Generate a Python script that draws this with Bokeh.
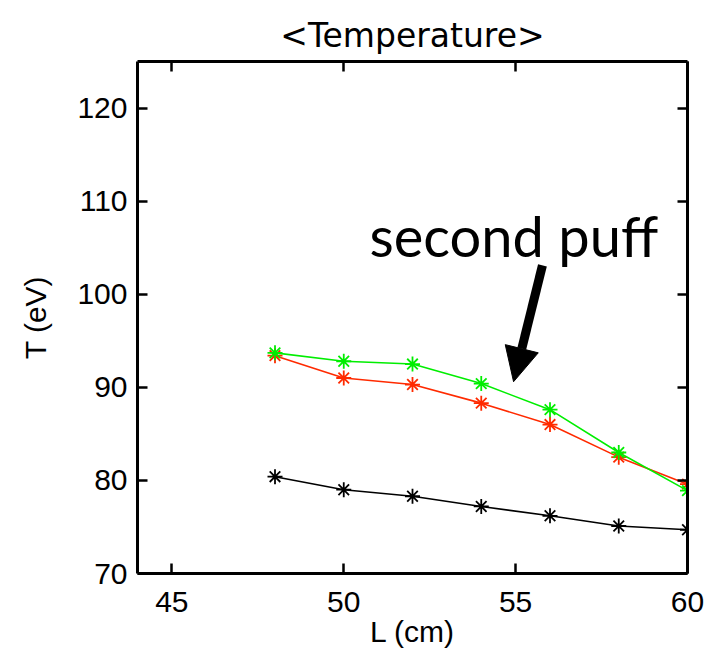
from bokeh.plotting import figure
from bokeh.models import (Range1d, LinearAxis, FixedTicker, CustomJSTickFormatter,
                          Label, Arrow, NormalHead)
from bokeh.embed import file_html
from bokeh.resources import INLINE

# ---- data ----
L_cm = [48, 50, 52, 54, 56, 58, 60]
T_black = [80.4, 79.0, 78.3, 77.2, 76.2, 75.1, 74.7]
T_red = [93.4, 91.0, 90.3, 88.3, 86.0, 82.5, 79.6]
T_green = [93.7, 92.8, 92.5, 90.4, 87.6, 83.0, 78.9]
x_ticks = [45, 50, 55, 60]
y_ticks = [70, 80, 90, 100, 110, 120]
title_text = "<Temperature>"
x_label = "L (cm)"
y_label = "T (eV)"
note_text = "second puff"

FONT = "Liberation Sans"

p = figure(width=709, height=654, output_backend="svg", toolbar_location=None,
           x_range=Range1d(44, 60), y_range=Range1d(70, 125),
           min_border_left=137, min_border_right=22, min_border_top=61,
           min_border_bottom=81, title=title_text, x_axis_location=None,
           y_axis_location=None)
p.background_fill_color = "white"
p.border_fill_color = "white"
p.outline_line_color = None
p.xgrid.visible = False
p.ygrid.visible = False

p.title.align = "center"
p.title.text_font = "DejaVu Sans"
p.title.text_font_size = "33px"
p.title.text_font_style = "normal"
p.title.text_color = "black"
p.title.standoff = 13

def style_axis(ax, show_labels):
    ax.axis_line_width = 3
    ax.axis_line_color = "black"
    ax.major_tick_in = 10
    ax.major_tick_out = 0
    ax.major_tick_line_width = 2.5
    ax.major_tick_line_color = "black"
    ax.minor_tick_line_color = None
    ax.major_label_text_font = FONT
    ax.major_label_text_font_size = "30px"
    ax.major_label_text_color = "black"
    ax.axis_label_text_font = FONT
    ax.axis_label_text_font_size = "30px"
    ax.axis_label_text_font_style = "normal"
    ax.axis_label_text_color = "black"
    if not show_labels:
        ax.formatter = CustomJSTickFormatter(code="return ''")
        ax.major_label_standoff = 0

xb = LinearAxis(ticker=FixedTicker(ticks=x_ticks), axis_label=x_label)
style_axis(xb, True)
xb.major_label_standoff = 18
xb.axis_label_standoff = 0
p.add_layout(xb, "below")

yl = LinearAxis(ticker=FixedTicker(ticks=y_ticks), axis_label=y_label)
style_axis(yl, True)
yl.major_label_standoff = 10
yl.axis_label_standoff = 22
p.add_layout(yl, "left")

xt = LinearAxis(ticker=FixedTicker(ticks=x_ticks))
style_axis(xt, False)
p.add_layout(xt, "above")

yr = LinearAxis(ticker=FixedTicker(ticks=y_ticks))
style_axis(yr, False)
p.add_layout(yr, "right")

for ys, col in [(T_black, "black"), (T_red, "#ff2a00"), (T_green, "#00ee00")]:
    p.line(L_cm, ys, line_color=col, line_width=1.6)
    p.scatter(L_cm, ys, marker="asterisk", size=15, line_color=col, line_width=1.8)

p.add_layout(Label(x=50.75, y=106.3, text=note_text, text_font="Lato",
                   text_font_size="56px", text_color="black",
                   text_baseline="alphabetic"))

p.add_layout(Arrow(x_start=55.78, y_start=103.1, x_end=54.94, y_end=90.6,
                   line_width=9, line_color="black",
                   end=NormalHead(size=34, fill_color="black", line_color="black",
                                  line_width=1)))

open("out.html", "w").write(file_html(p, INLINE))
